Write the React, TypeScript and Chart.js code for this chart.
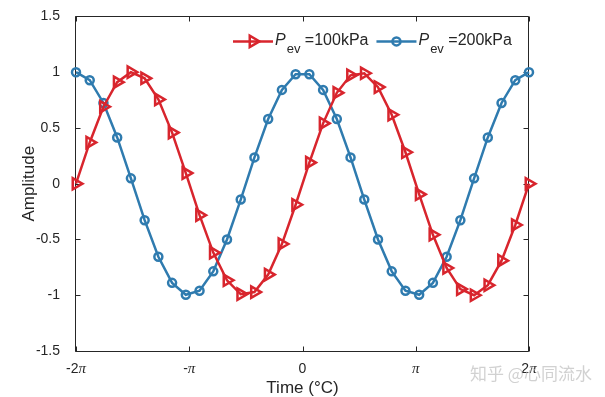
import React, { useEffect, useRef } from "react";
import { Chart, registerables } from "chart.js";

Chart.register(...registerables);

// ---- data ----
const timeValues = [
  -6.2832, -5.9024, -5.5216, -5.1408, -4.76, -4.3792, -3.9984, -3.6176, -3.2368, -2.856,
  -2.4752, -2.0944, -1.7136, -1.3328, -0.952, -0.5712, -0.1904, 0.1904, 0.5712, 0.952,
  1.3328, 1.7136, 2.0944, 2.4752, 2.856, 3.2368, 3.6176, 3.9984, 4.3792, 4.76,
  5.1408, 5.5216, 5.9024, 6.2832,
];
const amp100 = [
  0.0, 0.37, 0.69, 0.91, 1.0, 0.945, 0.756, 0.458, 0.095, -0.282,
  -0.618, -0.866, -0.99, -0.972, -0.815, -0.541, -0.189, 0.189, 0.541, 0.815,
  0.972, 0.99, 0.866, 0.618, 0.282, -0.095, -0.458, -0.756, -0.945, -1.0,
  -0.91, -0.69, -0.37, 0.0,
];
const amp200 = [
  1.0, 0.928, 0.724, 0.415, 0.048, -0.327, -0.655, -0.889, -0.996, -0.96,
  -0.786, -0.5, -0.142, 0.236, 0.58, 0.841, 0.982, 0.982, 0.841, 0.58,
  0.236, -0.142, -0.5, -0.786, -0.96, -0.996, -0.889, -0.655, -0.327, 0.048,
  0.415, 0.724, 0.928, 1.0,
];
const xTickValues = [-6.2832, -3.1416, 0, 3.1416, 6.2832];
const xTickLabels = ["-2π", "-π", "0", "π", "2π"];
const yTickValues = [-1.5, -1, -0.5, 0, 0.5, 1, 1.5];
const yTickLabels = ["-1.5", "-1", "-0.5", "0", "0.5", "1", "1.5"];
const legendMain = ["P", "P"];
const legendSub = ["ev", "ev"];
const legendRest = [" =100kPa", " =200kPa"];
const xTitle = "Time (°C)";
const yTitle = "Amplitude";
const watermark = "知乎 @心同流水";

const RED = "#D8252D";
const BLUE = "#2F7BAF";
const INK = "#262626";
const SANS = "'Liberation Sans', Arial, sans-serif";
const SERIF = "'Liberation Serif', 'Times New Roman', serif";

function drawMarker(ctx: CanvasRenderingContext2D, kind: string, x: number, y: number, color: string) {
  ctx.save();
  ctx.strokeStyle = color;
  ctx.lineWidth = 2.5;
  ctx.beginPath();
  if (kind === "triangle") {
    const r = 6.5;
    ctx.moveTo(x + r, y);
    ctx.lineTo(x + r * Math.cos((2 * Math.PI) / 3), y + r * Math.sin((2 * Math.PI) / 3));
    ctx.lineTo(x + r * Math.cos((4 * Math.PI) / 3), y + r * Math.sin((4 * Math.PI) / 3));
    ctx.closePath();
  } else {
    ctx.arc(x, y, 4, 0, Math.PI * 2);
  }
  ctx.stroke();
  ctx.restore();
}

const decorPlugin = {
  id: "decor",
  beforeDatasetsDraw(chart: any) {
    const { ctx, chartArea: a, scales } = chart;
    const xs = scales.x;
    const ys = scales.y;
    ctx.save();
    ctx.strokeStyle = INK;
    ctx.lineWidth = 1;
    const L = Math.round(a.left) - 0.5;
    const R = Math.round(a.right) - 0.5;
    const T = Math.round(a.top) + 0.5;
    const B = Math.round(a.bottom) + 0.5;
    ctx.beginPath();
    ctx.moveTo(L, T);
    ctx.lineTo(R, T);
    ctx.lineTo(R, B);
    ctx.lineTo(L, B);
    ctx.closePath();
    ctx.stroke();
    const tl = 5;
    ctx.beginPath();
    xTickValues.forEach((v) => {
      const px = Math.round(xs.getPixelForValue(v)) + 0.5;
      ctx.moveTo(px, B);
      ctx.lineTo(px, B - tl);
      ctx.moveTo(px, T);
      ctx.lineTo(px, T + tl);
    });
    yTickValues.forEach((v) => {
      const py = Math.round(ys.getPixelForValue(v)) + 0.5;
      ctx.moveTo(L, py);
      ctx.lineTo(L + tl, py);
      ctx.moveTo(R, py);
      ctx.lineTo(R - tl, py);
    });
    ctx.stroke();

    // x tick labels (π in italic serif)
    ctx.fillStyle = INK;
    ctx.textBaseline = "middle";
    ctx.textAlign = "left";
    const ly = a.bottom + 18;
    xTickValues.forEach((v, i) => {
      const label = xTickLabels[i];
      const parts: { t: string; f: string }[] = [];
      let buf = "";
      for (const ch of label) {
        if (ch === "π") {
          if (buf) parts.push({ t: buf, f: `14px ${SANS}` });
          buf = "";
          parts.push({ t: ch, f: `italic 15px ${SERIF}` });
        } else buf += ch;
      }
      if (buf) parts.push({ t: buf, f: `14px ${SANS}` });
      let w = 0;
      parts.forEach((p) => {
        ctx.font = p.f;
        w += ctx.measureText(p.t).width;
      });
      let x = xs.getPixelForValue(v) - w / 2;
      parts.forEach((p) => {
        ctx.font = p.f;
        ctx.fillText(p.t, x, ly);
        x += ctx.measureText(p.t).width;
      });
    });

    // axis titles
    ctx.font = `17px ${SANS}`;
    ctx.textAlign = "center";
    ctx.fillText(xTitle, (a.left + a.right) / 2, a.bottom + 37);
    ctx.save();
    ctx.translate(29, (a.top + a.bottom) / 2);
    ctx.rotate(-Math.PI / 2);
    ctx.fillText(yTitle, 0, 0);
    ctx.restore();
    ctx.restore();
  },
  afterDatasetsDraw(chart: any) {
    const { ctx, chartArea: a } = chart;
    ctx.save();
    let x = a.left + 157;
    const y = a.top + 25;
    const kinds = ["triangle", "circle"];
    for (let i = 0; i < 2; i++) {
      const color = chart.data.datasets[i].borderColor;
      ctx.strokeStyle = color;
      ctx.lineWidth = 2.5;
      ctx.beginPath();
      ctx.moveTo(x, y);
      ctx.lineTo(x + 40, y);
      ctx.stroke();
      drawMarker(ctx, kinds[i], x + 20, y, color);
      x += 42;
      ctx.fillStyle = INK;
      ctx.textAlign = "left";
      ctx.textBaseline = "alphabetic";
      ctx.font = `italic 16px ${SANS}`;
      ctx.fillText(legendMain[i], x, y + 4);
      x += ctx.measureText(legendMain[i]).width + 1;
      ctx.font = `13px ${SANS}`;
      ctx.fillText(legendSub[i], x, y + 12);
      x += ctx.measureText(legendSub[i]).width;
      ctx.font = `16px ${SANS}`;
      ctx.fillText(legendRest[i], x, y + 4);
      x += ctx.measureText(legendRest[i]).width + 8;
    }
    ctx.restore();
  },
  afterDraw(chart: any) {
    const { ctx } = chart;
    ctx.save();
    ctx.fillStyle = "rgba(190,190,190,0.7)";
    ctx.font = `17px 'Noto Sans CJK SC', sans-serif`;
    ctx.textAlign = "left";
    ctx.textBaseline = "middle";
    ctx.fillText(watermark, 470, 374);
    ctx.restore();
  },
};

export default function App() {
  const ref = useRef<HTMLCanvasElement | null>(null);
  useEffect(() => {
    if (!ref.current) return;
    const chart = new Chart(ref.current, {
      type: "line",
      data: {
        datasets: [
          {
            label: "Pev =100kPa",
            data: timeValues.map((t, i) => ({ x: t, y: amp100[i] })),
            borderColor: RED,
            backgroundColor: "rgba(0,0,0,0)",
            borderWidth: 2.5,
            pointStyle: "triangle",
            pointRotation: 90,
            pointRadius: 6.5,
            pointBorderWidth: 2.5,
            pointBorderColor: RED,
            pointBackgroundColor: "rgba(0,0,0,0)",
            tension: 0,
            clip: false as any,
          },
          {
            label: "Pev =200kPa",
            data: timeValues.map((t, i) => ({ x: t, y: amp200[i] })),
            borderColor: BLUE,
            backgroundColor: "rgba(0,0,0,0)",
            borderWidth: 2.5,
            pointStyle: "circle",
            pointRadius: 4,
            pointBorderWidth: 2.5,
            pointBorderColor: BLUE,
            pointBackgroundColor: "rgba(0,0,0,0)",
            tension: 0,
            clip: false as any,
          },
        ],
      },
      options: {
        animation: false,
        responsive: true,
        maintainAspectRatio: false,
        devicePixelRatio: 1,
        layout: { padding: { top: 11, right: 76, left: 0, bottom: 0 } },
        plugins: { legend: { display: false }, tooltip: { enabled: false } },
        events: [],
        scales: {
          x: {
            type: "linear",
            min: xTickValues[0],
            max: xTickValues[xTickValues.length - 1],
            grid: { display: false },
            border: { display: false },
            ticks: { display: false },
            afterFit: (s: any) => {
              s.height = 46;
            },
          },
          y: {
            type: "linear",
            min: yTickValues[0],
            max: yTickValues[yTickValues.length - 1],
            grid: { display: false },
            border: { display: false },
            afterBuildTicks: (s: any) => {
              s.ticks = yTickValues.map((v) => ({ value: v }));
            },
            ticks: {
              padding: 8,
              color: INK,
              font: { family: SANS, size: 14 },
              callback: (v: any) => {
                const i = yTickValues.indexOf(Number(v));
                return i >= 0 ? yTickLabels[i] : "";
              },
            },
            afterFit: (s: any) => {
              s.width = 76;
            },
          },
        },
      },
      plugins: [decorPlugin],
    });
    return () => chart.destroy();
  }, []);
  return (
    <div style={{ position: "fixed", left: 0, top: 0, width: 605, height: 397, background: "#fff" }}>
      <canvas ref={ref} />
    </div>
  );
}
